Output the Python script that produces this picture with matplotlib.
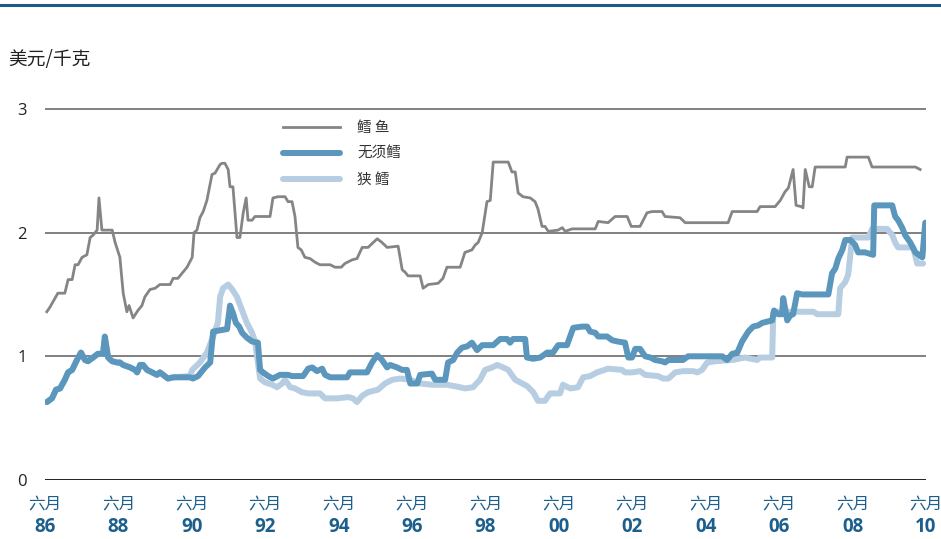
import matplotlib
matplotlib.use("Agg")
import matplotlib.pyplot as plt
from matplotlib.lines import Line2D
from matplotlib.transforms import blended_transform_factory

plt.rcParams['font.family'] = ['Noto Sans CJK SC', 'DejaVu Sans']

# ---------------- data (decimal year, USD/kg) ----------------
cod_years = [1986.55, 1986.64, 1986.85, 1987.04, 1987.13, 1987.24, 1987.32, 1987.40, 1987.51, 1987.64,
             1987.73, 1987.81, 1987.92, 1987.97, 1988.05, 1988.33, 1988.41, 1988.54, 1988.63, 1988.73,
             1988.79, 1988.90, 1989.03, 1989.14, 1989.22, 1989.36, 1989.50, 1989.63, 1989.91, 1989.99,
             1990.12, 1990.23, 1990.37, 1990.51, 1990.56, 1990.64, 1990.72, 1990.81, 1990.91, 1991.05,
             1991.13, 1991.27, 1991.32, 1991.40, 1991.49, 1991.54, 1991.62, 1991.73, 1991.81, 1991.90,
             1991.98, 1992.03, 1992.14, 1992.22, 1992.63, 1992.71, 1992.85, 1993.04, 1993.12, 1993.23,
             1993.31, 1993.39, 1993.48, 1993.58, 1993.72, 1993.86, 1993.99, 1994.27, 1994.40, 1994.57,
             1994.67, 1994.87, 1995.00, 1995.14, 1995.30, 1995.55, 1995.68, 1995.82, 1996.12, 1996.23,
             1996.31, 1996.39, 1996.72, 1996.80, 1996.94, 1997.21, 1997.34, 1997.45, 1997.81, 1997.94,
             1998.13, 1998.22, 1998.30, 1998.41, 1998.54, 1998.63, 1998.71, 1999.12, 1999.22, 1999.31,
             1999.39, 1999.52, 1999.72, 1999.85, 1999.93, 2000.04, 2000.12, 2000.21, 2000.48, 2000.59,
             2000.67, 2000.86, 2001.49, 2001.57, 2001.84, 2002.03, 2002.36, 2002.47, 2002.71, 2002.90,
             2003.04, 2003.31, 2003.39, 2003.80, 2003.94, 2005.11, 2005.22, 2005.90, 2005.98, 2006.39,
             2006.53, 2006.66, 2006.75, 2006.88, 2006.96, 2007.10, 2007.15, 2007.21, 2007.32, 2007.40,
             2007.48, 2008.30, 2008.35, 2008.93, 2009.03, 2010.21, 2010.34]
cod_values = [1.36, 1.40, 1.51, 1.51, 1.62, 1.62, 1.74, 1.74, 1.80, 1.82,
              1.96, 1.98, 2.02, 2.28, 2.02, 2.02, 1.92, 1.80, 1.51, 1.36,
              1.41, 1.31, 1.37, 1.41, 1.48, 1.54, 1.55, 1.58, 1.58, 1.63,
              1.63, 1.67, 1.72, 1.80, 2.00, 2.02, 2.12, 2.17, 2.26, 2.47,
              2.48, 2.55, 2.56, 2.56, 2.51, 2.37, 2.37, 1.96, 1.96, 2.16,
              2.28, 2.10, 2.10, 2.13, 2.13, 2.28, 2.29, 2.29, 2.25, 2.25,
              2.13, 1.88, 1.86, 1.80, 1.79, 1.76, 1.74, 1.74, 1.72, 1.72,
              1.75, 1.78, 1.79, 1.88, 1.88, 1.95, 1.92, 1.88, 1.89, 1.70,
              1.68, 1.65, 1.65, 1.55, 1.58, 1.59, 1.63, 1.72, 1.72, 1.84,
              1.86, 1.90, 1.92, 2.00, 2.25, 2.26, 2.57, 2.57, 2.49, 2.49,
              2.32, 2.29, 2.28, 2.25, 2.19, 2.05, 2.05, 2.01, 2.02, 2.04,
              2.01, 2.03, 2.03, 2.09, 2.08, 2.13, 2.13, 2.05, 2.05, 2.16,
              2.17, 2.17, 2.13, 2.12, 2.08, 2.08, 2.17, 2.17, 2.21, 2.21,
              2.26, 2.33, 2.36, 2.51, 2.22, 2.21, 2.20, 2.51, 2.37, 2.37,
              2.53, 2.53, 2.61, 2.61, 2.53, 2.53, 2.51]

haddock_years = [1986.55, 1986.69, 1986.80, 1986.91, 1987.04, 1987.13, 1987.24, 1987.37, 1987.48, 1987.59,
                 1987.67, 1987.81, 1987.94, 1988.08, 1988.13, 1988.22, 1988.33, 1988.46, 1988.54, 1988.63,
                 1988.82, 1988.95, 1989.01, 1989.09, 1989.17, 1989.28, 1989.42, 1989.55, 1989.63, 1989.85,
                 1989.99, 1990.45, 1990.53, 1990.67, 1990.86, 1991.00, 1991.08, 1991.27, 1991.46, 1991.54,
                 1991.62, 1991.70, 1991.79, 1991.87, 1992.00, 1992.14, 1992.30, 1992.36, 1992.44, 1992.58,
                 1992.71, 1992.90, 1993.12, 1993.23, 1993.53, 1993.67, 1993.78, 1993.91, 1994.05, 1994.13,
                 1994.27, 1994.73, 1994.81, 1995.27, 1995.41, 1995.55, 1995.68, 1995.82, 1995.90, 1996.09,
                 1996.23, 1996.36, 1996.45, 1996.64, 1996.72, 1997.04, 1997.13, 1997.40, 1997.48, 1997.62,
                 1997.73, 1997.86, 1998.00, 1998.13, 1998.27, 1998.41, 1998.71, 1998.90, 1999.09, 1999.17,
                 1999.25, 1999.58, 1999.63, 1999.80, 1999.99, 2000.18, 2000.34, 2000.48, 2000.72, 2000.89,
                 2001.13, 2001.27, 2001.35, 2001.49, 2001.57, 2001.81, 2001.95, 2002.09, 2002.30, 2002.39,
                 2002.49, 2002.58, 2002.71, 2002.85, 2002.99, 2003.12, 2003.31, 2003.39, 2003.48, 2003.88,
                 2004.02, 2004.95, 2005.08, 2005.22, 2005.36, 2005.49, 2005.66, 2005.79, 2005.93, 2006.04,
                 2006.17, 2006.31, 2006.36, 2006.47, 2006.58, 2006.61, 2006.72, 2006.80, 2006.88, 2006.99,
                 2007.13, 2007.84, 2007.94, 2008.03, 2008.11, 2008.22, 2008.30, 2008.44, 2008.57, 2008.65,
                 2008.84, 2009.06, 2009.09, 2009.58, 2009.66, 2009.74, 2009.85, 2009.93, 2010.07, 2010.21,
                 2010.40, 2010.48]
haddock_values = [0.63, 0.66, 0.73, 0.74, 0.81, 0.87, 0.89, 0.97, 1.03, 0.97,
                  0.96, 0.99, 1.02, 1.02, 1.16, 0.99, 0.96, 0.95, 0.95, 0.93,
                  0.91, 0.89, 0.87, 0.93, 0.93, 0.89, 0.87, 0.85, 0.87, 0.82,
                  0.83, 0.83, 0.82, 0.84, 0.91, 0.95, 1.20, 1.21, 1.22, 1.41,
                  1.35, 1.27, 1.24, 1.19, 1.15, 1.12, 1.11, 0.89, 0.87, 0.84,
                  0.82, 0.85, 0.85, 0.84, 0.84, 0.90, 0.91, 0.88, 0.90, 0.85,
                  0.83, 0.83, 0.87, 0.87, 0.95, 1.01, 0.97, 0.91, 0.93, 0.91,
                  0.89, 0.89, 0.78, 0.78, 0.85, 0.86, 0.81, 0.81, 0.95, 0.97,
                  1.03, 1.07, 1.08, 1.11, 1.05, 1.09, 1.09, 1.14, 1.14, 1.11,
                  1.14, 1.14, 0.99, 0.98, 0.99, 1.03, 1.03, 1.09, 1.09, 1.23,
                  1.24, 1.24, 1.20, 1.19, 1.16, 1.16, 1.13, 1.12, 1.11, 0.99,
                  0.99, 1.06, 1.06, 1.00, 0.99, 0.97, 0.96, 0.95, 0.97, 0.97,
                  1.00, 1.00, 0.97, 1.02, 1.03, 1.12, 1.20, 1.24, 1.25, 1.27,
                  1.28, 1.29, 1.37, 1.34, 1.34, 1.47, 1.29, 1.33, 1.34, 1.51,
                  1.50, 1.50, 1.67, 1.71, 1.79, 1.86, 1.94, 1.94, 1.90, 1.84,
                  1.84, 1.82, 2.22, 2.22, 2.13, 2.10, 2.04, 1.98, 1.92, 1.84,
                  1.80, 2.08]

pollock_years = [1986.55, 1986.69, 1986.80, 1986.91, 1987.04, 1987.13, 1987.24, 1987.37, 1987.48, 1987.59,
                 1987.67, 1987.81, 1987.94, 1988.08, 1988.13, 1988.22, 1988.33, 1988.46, 1988.54, 1988.63,
                 1988.82, 1988.95, 1989.01, 1989.09, 1989.17, 1989.28, 1989.42, 1989.55, 1989.63, 1989.85,
                 1989.99, 1990.45,
                 1990.51, 1990.72, 1990.91, 1991.08, 1991.21, 1991.27, 1991.35, 1991.49, 1991.60, 1991.73,
                 1991.87, 1992.00, 1992.14, 1992.22, 1992.30, 1992.36, 1992.49, 1992.69, 1992.82, 1992.96,
                 1993.04, 1993.18, 1993.31, 1993.50, 1993.67, 1993.99, 1994.13, 1994.46, 1994.76, 1994.89,
                 1995.00, 1995.14, 1995.30, 1995.57, 1995.76, 1995.96, 1996.17, 1996.45, 1996.72, 1997.04,
                 1997.45, 1997.81, 1997.94, 1998.16, 1998.35, 1998.49, 1998.68, 1998.82, 1998.98, 1999.12,
                 1999.31, 1999.50, 1999.63, 1999.80, 1999.93, 2000.12, 2000.26, 2000.53, 2000.61, 2000.81,
                 2001.02, 2001.16, 2001.35, 2001.54, 2001.84, 2002.22, 2002.30, 2002.49, 2002.71, 2002.85,
                 2003.20, 2003.34, 2003.48, 2003.67, 2003.88, 2004.16, 2004.27, 2004.40, 2004.54, 2004.76,
                 2005.22, 2005.57, 2005.90, 2005.98, 2006.31, 2006.34, 2006.45, 2007.43, 2007.54, 2008.11,
                 2008.16, 2008.30, 2008.38, 2008.49, 2008.63, 2008.93, 2009.03, 2009.44, 2009.58, 2009.66,
                 2009.74, 2010.15, 2010.26, 2010.42]
pollock_values = [0.63, 0.66, 0.73, 0.74, 0.81, 0.87, 0.89, 0.97, 1.03, 0.97,
                  0.96, 0.99, 1.02, 1.02, 1.14, 0.99, 0.96, 0.95, 0.95, 0.93,
                  0.91, 0.89, 0.87, 0.93, 0.93, 0.89, 0.87, 0.85, 0.87, 0.82,
                  0.83, 0.84,
                  0.89, 0.95, 1.03, 1.16, 1.27, 1.48, 1.55, 1.58, 1.54, 1.48,
                  1.37, 1.27, 1.19, 1.12, 0.95, 0.82, 0.79, 0.77, 0.75, 0.78,
                  0.81, 0.75, 0.74, 0.71, 0.70, 0.70, 0.66, 0.66, 0.67, 0.66,
                  0.63, 0.68, 0.71, 0.73, 0.78, 0.81, 0.82, 0.81, 0.78, 0.77,
                  0.77, 0.75, 0.74, 0.75, 0.81, 0.89, 0.91, 0.93, 0.91, 0.89,
                  0.81, 0.78, 0.76, 0.71, 0.64, 0.64, 0.70, 0.70, 0.77, 0.74,
                  0.75, 0.83, 0.84, 0.87, 0.90, 0.89, 0.87, 0.87, 0.88, 0.85,
                  0.84, 0.82, 0.82, 0.87, 0.88, 0.88, 0.87, 0.89, 0.95, 0.96,
                  0.97, 0.99, 0.97, 0.99, 0.99, 1.35, 1.36, 1.36, 1.34, 1.34,
                  1.55, 1.60, 1.66, 1.96, 1.96, 1.96, 2.03, 2.03, 1.98, 1.92,
                  1.88, 1.88, 1.75, 1.75]

series_names = ['鳕 鱼', '无须鳕', '狭 鳕']
y_ticks = [0, 1, 2, 3]
x_tick_years = [1986.5 + 2 * i for i in range(13)]
x_tick_top = '六月'
x_tick_bottom = ['86', '88', '90', '92', '94', '96', '98', '00', '02', '04', '06', '08', '10']
y_unit = '美元/千克'

# ---------------- figure ----------------
W, H = 941, 539
fig = plt.figure(figsize=(W / 100, H / 100), dpi=100)

left_px, right_px = 45, 926
bottom_px = 480
top_px = 96.5
ax = fig.add_axes([left_px / W, (H - bottom_px) / H,
                   (right_px - left_px) / W, (bottom_px - top_px) / H])
ax.set_xlim(1986.5, 2010.5)
ax.set_ylim(0, 3.1)

for s in ax.spines.values():
    s.set_visible(False)

# gridlines
for v in y_ticks:
    ax.axhline(v, color='#222222' if v == 0 else '#5e5e5e',
               lw=1.4 if v == 0 else 1.1, zorder=1)

c_cod = '#858585'
c_had = '#5b96bd'
c_pol = '#b6cde2'

ax.plot(pollock_years, pollock_values, color=c_pol, lw=4.3, solid_joinstyle='round',
        solid_capstyle='round', zorder=2)
ax.plot(haddock_years, haddock_values, color=c_had, lw=4.3, solid_joinstyle='round',
        solid_capstyle='round', zorder=3)
ax.plot(cod_years, cod_values, color=c_cod, lw=2.0, solid_joinstyle='round', zorder=4)

ax.set_yticks(y_ticks)
ax.set_yticklabels([str(v) for v in y_ticks], fontsize=12, color='#222222',
                   family=['Open Sans', 'DejaVu Sans'])
ax.tick_params(axis='y', length=0, pad=13)
ax.set_xticks([])

# x labels
trans = blended_transform_factory(ax.transData, fig.transFigure)
for yr, lab in zip(x_tick_years, x_tick_bottom):
    ax.text(yr, 1 - 505 / H, x_tick_top, transform=trans, ha='center', va='center',
            fontsize=12, color='#1d5f8c')
    ax.text(yr, 1 - 527 / H, lab, transform=trans, ha='center', va='center',
            fontsize=13.5, fontweight='bold', color='#1d5f8c',
            family=['Open Sans', 'DejaVu Sans'])

# unit label
fig.text(8 / W, 1 - 60 / H, y_unit, ha='left', va='center', fontsize=13.5, color='#222222')

# top rule
fig.add_artist(Line2D([0, 1], [1 - 5 / H, 1 - 5 / H], transform=fig.transFigure,
                      color='#1f5a85', lw=2.2))

# legend
handles = [Line2D([], [], color=c_cod, lw=2.0),
           Line2D([], [], color=c_had, lw=4.3, solid_capstyle='round'),
           Line2D([], [], color=c_pol, lw=4.3, solid_capstyle='round')]
leg = ax.legend(handles, series_names, loc='upper left',
                bbox_to_anchor=(283 / W, 1 - 121 / H), bbox_transform=fig.transFigure,
                frameon=False, fontsize=10.5, handlelength=3.9, handletextpad=1.2,
                labelspacing=0.82, borderpad=0, borderaxespad=0)
for t in leg.get_texts():
    t.set_color('#333333')

fig.savefig('out.png', dpi=100)
